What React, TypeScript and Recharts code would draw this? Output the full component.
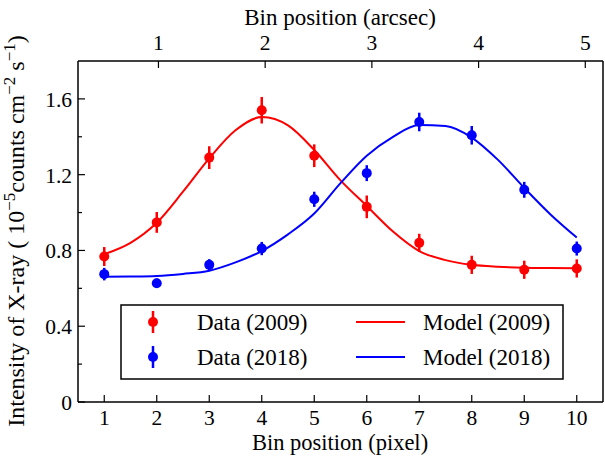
import {
  ComposedChart,
  Line,
  Scatter,
  ErrorBar,
  XAxis,
  YAxis,
} from "recharts";

const FONT = "'Liberation Serif', 'DejaVu Serif', serif";
const RED = "#ff0000";
const BLUE = "#0000ff";
const ARCSEC_PER_PIXEL = 0.492;
const TICK_FS = 21.5;
const LABEL_FS = 23;

const BINS = [1, 2, 3, 4, 5, 6, 7, 8, 9, 10];
const DATA_2009 = [0.768, 0.948, 1.29, 1.54, 1.3, 1.03, 0.84, 0.724, 0.698, 0.705];
const ERR_2009 = [0.05, 0.055, 0.06, 0.07, 0.06, 0.06, 0.048, 0.048, 0.048, 0.048];
const DATA_2018 = [0.675, 0.627, 0.724, 0.81, 1.07, 1.208, 1.478, 1.408, 1.12, 0.81];
const ERR_2018 = [0.033, 0.025, 0.03, 0.035, 0.04, 0.042, 0.049, 0.049, 0.042, 0.037];

// model curves on a half-pixel grid
const MODEL_X = [1, 1.5, 2, 2.5, 3, 3.5, 4, 4.5, 5, 5.5, 6, 6.5, 7, 7.5, 8, 8.5, 9, 9.5, 10];
const MODEL_2009 = [0.78, 0.84, 0.946, 1.11, 1.286, 1.434, 1.504, 1.46, 1.33, 1.17, 1.035, 0.9, 0.797, 0.749, 0.724, 0.714, 0.709, 0.707, 0.706];
const MODEL_2018 = [0.661, 0.662, 0.665, 0.676, 0.693, 0.737, 0.797, 0.885, 0.995, 1.155, 1.3, 1.4, 1.462, 1.457, 1.396, 1.278, 1.13, 0.99, 0.868];

const Y_TICKS = [0, 0.2, 0.4, 0.6, 0.8, 1.0, 1.2, 1.4, 1.6];
const ARCSEC_TICKS = [1, 2, 3, 4, 5];

const pts2009 = BINS.map((x, i) => ({ x, y: DATA_2009[i], err: ERR_2009[i] }));
const pts2018 = BINS.map((x, i) => ({ x, y: DATA_2018[i], err: ERR_2018[i] }));
const model2009 = MODEL_X.map((x, i) => ({ x, y: MODEL_2009[i] }));
const model2018 = MODEL_X.map((x, i) => ({ x, y: MODEL_2018[i] }));

const BottomTick = (props: any) => {
  const { x, y, payload } = props;
  return (
    <g>
      <line x1={x} x2={x} y1={y} y2={y - 7} stroke="#000" strokeWidth={1.2} />
      <text x={x} y={y + 23} textAnchor="middle" fontFamily={FONT} fontSize={TICK_FS} fill="#000">
        {payload.value}
      </text>
    </g>
  );
};

const TopTick = (props: any) => {
  const { x, y, payload } = props;
  return (
    <g>
      <line x1={x} x2={x} y1={y} y2={y + 7} stroke="#000" strokeWidth={1.2} />
      <text x={x} y={y - 11} textAnchor="middle" fontFamily={FONT} fontSize={TICK_FS} fill="#000">
        {payload.value}
      </text>
    </g>
  );
};

const LeftTick = (props: any) => {
  const { x, y, payload } = props;
  const v = Math.round(payload.value * 10) / 10;
  const major = Math.round(v * 10) % 4 === 0;
  return (
    <g>
      <line x1={x} x2={x + (major ? 7 : 4)} y1={y} y2={y} stroke="#000" strokeWidth={1.2} />
      {major && (
        <text x={x - 6} y={y + 8} textAnchor="end" fontFamily={FONT} fontSize={TICK_FS} fill="#000">
          {v === 0 ? "0" : v.toFixed(1)}
        </text>
      )}
    </g>
  );
};

const Dot = (color: string) => (p: any) => <circle cx={p.cx} cy={p.cy} r={5} fill={color} />;

const Overlay = () => (
  <svg
    width={605}
    height={458}
    style={{ position: "absolute", left: 0, top: 0, pointerEvents: "none" }}
  >
    <g fontFamily={FONT} fontSize={LABEL_FS} fill="#000">
      <text x={340} y={25} textAnchor="middle">Bin position (arcsec)</text>
      <text x={340} y={450} textAnchor="middle" fontSize={22.5}>Bin position (pixel)</text>
      <text transform="translate(24,231) rotate(-90)" textAnchor="middle" fontSize={24}>
        Intensity of X-ray ( 10
        <tspan dy={-9} fontSize={17}>−5</tspan>
        <tspan dy={9}>counts cm</tspan>
        <tspan dy={-9} fontSize={17}>−2</tspan>
        <tspan dy={9}> s</tspan>
        <tspan dy={-9} fontSize={17}>−1</tspan>
        <tspan dy={9}>)</tspan>
      </text>
    </g>
    {/* Legend */}
    <rect x={121} y={305} width={442} height={74} fill="#fff" stroke="#000" strokeWidth={1.5} />
    <g fontFamily={FONT} fontSize={LABEL_FS} fill="#000">
      <line x1={153} x2={153} y1={311} y2={333} stroke={RED} strokeWidth={2.5} />
      <circle cx={153} cy={322} r={5} fill={RED} />
      <text x={197} y={330}>Data (2009)</text>
      <line x1={356} x2={405} y1={322} y2={322} stroke={RED} strokeWidth={2} />
      <text x={423} y={330}>Model (2009)</text>
      <line x1={153} x2={153} y1={346} y2={368} stroke={BLUE} strokeWidth={2.5} />
      <circle cx={153} cy={357} r={5} fill={BLUE} />
      <text x={197} y={365}>Data (2018)</text>
      <line x1={356} x2={405} y1={357} y2={357} stroke={BLUE} strokeWidth={2} />
      <text x={423} y={365}>Model (2018)</text>
    </g>
  </svg>
);

export default function App() {
  return (
    <div style={{ position: "absolute", left: 0, top: 0, width: 605, height: 458, background: "#fff" }}>
      <ComposedChart
        width={605}
        height={458}
        margin={{ top: 31, right: 1, bottom: 26, left: 38 }}
      >
        <XAxis
          xAxisId="bottom"
          dataKey="x"
          type="number"
          domain={[0.5, 10.5]}
          ticks={BINS}
          interval={0}
          height={30}
          tickSize={0}
          tickMargin={0}
          tick={<BottomTick />}
          axisLine={{ stroke: "#000", strokeWidth: 1.5 }}
        />
        <XAxis
          xAxisId="top"
          orientation="top"
          dataKey="x"
          type="number"
          domain={[0.5 * ARCSEC_PER_PIXEL, 10.5 * ARCSEC_PER_PIXEL]}
          allowDataOverflow
          ticks={ARCSEC_TICKS}
          interval={0}
          height={30}
          tickSize={0}
          tickMargin={0}
          tick={<TopTick />}
          axisLine={{ stroke: "#000", strokeWidth: 1.5 }}
        />
        <YAxis
          yAxisId="left"
          type="number"
          domain={[0, 1.8]}
          ticks={Y_TICKS}
          interval={0}
          width={40}
          tickSize={0}
          tickMargin={0}
          tick={<LeftTick />}
          axisLine={{ stroke: "#000", strokeWidth: 1.5 }}
        />
        <YAxis
          yAxisId="right"
          orientation="right"
          type="number"
          domain={[0, 1.8]}
          width={1}
          tick={false}
          tickLine={false}
          axisLine={{ stroke: "#000", strokeWidth: 1.5 }}
        />
        <Line
          xAxisId="bottom"
          yAxisId="left"
          data={model2009}
          dataKey="y"
          type="monotone"
          stroke={RED}
          strokeWidth={2}
          dot={false}
          isAnimationActive={false}
        />
        <Line
          xAxisId="bottom"
          yAxisId="left"
          data={model2018}
          dataKey="y"
          type="monotone"
          stroke={BLUE}
          strokeWidth={2}
          dot={false}
          isAnimationActive={false}
        />
        <Scatter
          xAxisId="bottom"
          yAxisId="left"
          data={pts2009}
          dataKey="y"
          fill={RED}
          shape={Dot(RED)}
          isAnimationActive={false}
        >
          <ErrorBar dataKey="err" direction="y" width={0} stroke={RED} strokeWidth={2.5} isAnimationActive={false} />
        </Scatter>
        <Scatter
          xAxisId="bottom"
          yAxisId="left"
          data={pts2018}
          dataKey="y"
          fill={BLUE}
          shape={Dot(BLUE)}
          isAnimationActive={false}
        >
          <ErrorBar dataKey="err" direction="y" width={0} stroke={BLUE} strokeWidth={2.5} isAnimationActive={false} />
        </Scatter>
      </ComposedChart>
      <Overlay />
    </div>
  );
}
